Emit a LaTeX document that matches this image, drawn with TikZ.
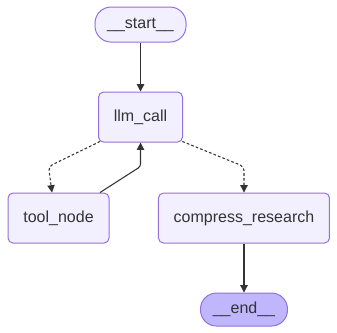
\documentclass[tikz,border=0pt]{standalone}
\usepackage{fontspec}
\setmainfont{Liberation Sans}
\usepackage{tikz}
\usetikzlibrary{shapes,arrows.meta,positioning,calc}
\definecolor{nodefill}{HTML}{F2F0FF}
\definecolor{nodeline}{HTML}{9370DB}
\definecolor{lastfill}{HTML}{BFB6FC}
\definecolor{ink}{HTML}{333333}

\begin{document}
\begin{tikzpicture}[
  block/.style={rectangle, draw=nodeline, fill=nodefill, line width=0.75pt, rounded corners=3.75pt, minimum height=37.5pt, inner sep=0pt, font=\fontsize{12}{14}\selectfont, text=ink, align=center},
  terminal/.style={block, rounded corners=12pt, minimum height=26.25pt},
  arrow/.style={-{Triangle[length=5.5pt,width=5.5pt]}, line width=0.8pt, ink},
  dotarrow/.style={arrow, dash pattern=on 2pt off 1.6pt, rounded corners=3pt}
]
\node[terminal, minimum width=68.25pt] (start) {\_\_start\_\_};
\node[block, minimum width=63pt, below=36.75pt of start] (llm) {llm\_call};
\node[block, minimum width=75.75pt, below=37.5pt of llm, xshift=-61.5pt] (tool) {tool\_node};
\node[block, minimum width=128.25pt, below=37.5pt of llm, xshift=77.6pt] (compress) {compress\_research};
\node[terminal, fill=lastfill, minimum width=65.25pt, minimum height=24.75pt, below=36.75pt of compress] (end) {\_\_end\_\_};

\coordinate (jn) at ([yshift=-18pt]llm.south);

\useasboundingbox ([xshift=-105.4pt,yshift=18.4pt]start.center) rectangle ++(252.75pt,-249.75pt);

\draw[arrow] (start) -- (llm);
\draw[dotarrow] ([xshift=1.5pt,yshift=0.8pt]llm.south west) -- ([xshift=-7.5pt]tool.north |- jn) -- ([xshift=-4.9pt]tool.north);
\draw[arrow, rounded corners=2pt] ([xshift=31.1pt]tool.north) -- (jn) -- (llm.south);
\draw[dotarrow] ([xshift=-0.5pt,yshift=0.8pt]llm.south east) -- (compress.north |- jn) -- (compress.north);
\draw[arrow] (compress) -- (end);
\end{tikzpicture}
\end{document}
